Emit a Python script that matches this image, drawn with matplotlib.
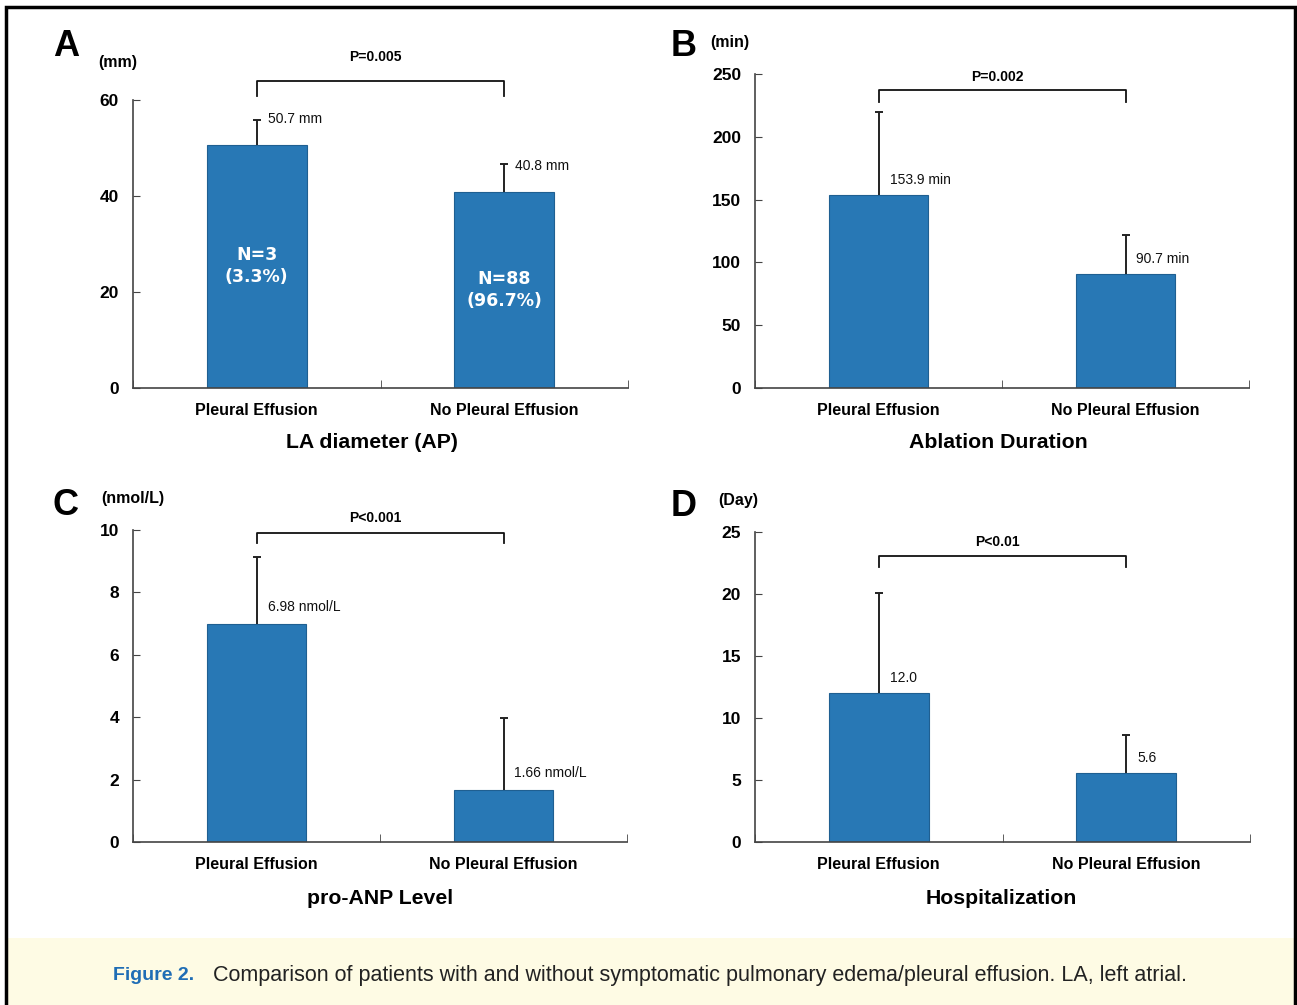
import matplotlib.pyplot as plt
from matplotlib.patches import Rectangle

plt.rcParams['font.family'] = ['Liberation Sans', 'DejaVu Sans']

groups = ['Pleural Effusion', 'No Pleural Effusion']

la_mean = [50.7, 40.8]
la_sd = [5.1, 5.9]
abl_mean = [153.9, 90.7]
abl_sd = [65.5, 31.5]
anp_mean = [6.98, 1.66]
anp_sd = [2.15, 2.32]
hosp_mean = [12.0, 5.6]
hosp_sd = [8.1, 3.0]

la_labels = ['50.7 mm', '40.8 mm']
abl_labels = ['153.9 min', '90.7 min']
anp_labels = ['6.98 nmol/L', '1.66 nmol/L']
hosp_labels = ['12.0', '5.6']
n_labels = ['N=3\n(3.3%)', 'N=88\n(96.7%)']

bar_color = '#2878B5'
spine_color = '#444444'

W, H = 1297, 1005
fig = plt.figure(figsize=(W / 100, H / 100), dpi=100)


def fx(px):
    return px / W


def fy(py):
    return 1 - py / H


panels = [
    # axes rect in pixels (left, top, right, bottom), data, limits, ticks
    dict(box=(133, 100, 628, 388), mean=la_mean, sd=la_sd, labels=la_labels,
         ymax=60, yticks=[0, 20, 40, 60], lab_dy=26,
         bracket=(64.0, 60.8), p='P=0.005', p_y=69.0,
         title='LA diameter (AP)', title_xy=(372, 443),
         letter='A', letter_xy=(66, 47), unit='(mm)', unit_xy=(118, 63)),
    dict(box=(755, 74, 1249, 388), mean=abl_mean, sd=abl_sd, labels=abl_labels,
         ymax=250, yticks=[0, 50, 100, 150, 200, 250], lab_dy=15,
         bracket=(237, 228), p='P=0.002', p_y=248,
         title='Ablation Duration', title_xy=(998, 443),
         letter='B', letter_xy=(684, 47), unit='(min)', unit_xy=(730, 42)),
    dict(box=(133, 530, 627, 842), mean=anp_mean, sd=anp_sd, labels=anp_labels,
         ymax=10, yticks=[0, 2, 4, 6, 8, 10], lab_dy=17,
         bracket=(9.9, 9.58), p='P<0.001', p_y=10.38,
         title='pro-ANP Level', title_xy=(380, 898),
         letter='C', letter_xy=(66, 505), unit='(nmol/L)', unit_xy=(133, 498)),
    dict(box=(755, 532, 1250, 842), mean=hosp_mean, sd=hosp_sd, labels=hosp_labels,
         ymax=25, yticks=[0, 5, 10, 15, 20, 25], lab_dy=15,
         bracket=(23.06, 22.2), p='P<0.01', p_y=24.2,
         title='Hospitalization', title_xy=(1001, 898),
         letter='D', letter_xy=(684, 507), unit='(Day)', unit_xy=(738, 501)),
]

x = [0, 1]
for i, p in enumerate(panels):
    l, t, r, b = p['box']
    ax = fig.add_axes([fx(l), fy(b), fx(r - l), (b - t) / H])
    ax.bar(x, p['mean'], width=0.404, color=bar_color, edgecolor='#1f5f91',
           linewidth=0.8, zorder=2)
    # upper-only error bars with a small cap
    tops = [m + s for m, s in zip(p['mean'], p['sd'])]
    ax.vlines(x, p['mean'], tops, color='#222222', lw=1.4, zorder=3)
    ax.plot(x, tops, ls='none', marker='_', markersize=6, mew=1.4,
            color='#222222', zorder=3)
    ax.set_xlim(-0.5, 1.5)
    ax.set_ylim(0, p['ymax'])
    ax.set_yticks(p['yticks'])
    ax.set_xticks(x)
    ax.set_xticklabels(groups, fontsize=11.5, fontweight='bold')
    ax.set_xticks([-0.5, 0.5, 1.5], minor=True)
    ax.tick_params(axis='x', which='major', length=0, pad=11)
    ax.tick_params(axis='x', which='minor', length=6, direction='in',
                   color=spine_color)
    ax.tick_params(axis='y', length=5, direction='in', pad=10,
                   labelsize=12.5, color=spine_color)
    for lbl in ax.get_yticklabels():
        lbl.set_fontweight('bold')
    for s in ['top', 'right']:
        ax.spines[s].set_visible(False)
    for s in ['left', 'bottom']:
        ax.spines[s].set_color(spine_color)
        ax.spines[s].set_linewidth(1.2)

    # value labels
    for xi, m, txt in zip(x, p['mean'], p['labels']):
        ax.annotate(txt, (xi, m), xytext=(11, p['lab_dy']),
                    textcoords='offset pixels', ha='left', va='center',
                    fontsize=10, color='#111111', zorder=4)

    # significance bracket
    top, foot = p['bracket']
    ax.plot([0, 0, 1, 1], [foot, top, top, foot], color='#111111', lw=1.3,
            clip_on=False)
    ax.text(0.48, p['p_y'], p['p'], ha='center', va='center', fontsize=10,
            fontweight='bold', clip_on=False)

    if i == 0:
        for xi, m, txt in zip(x, p['mean'], n_labels):
            ax.text(xi, m / 2, txt, ha='center', va='center', color='white',
                    fontsize=12.5, fontweight='bold', family='DejaVu Sans',
                    linespacing=1.3, zorder=4)

    fig.text(fx(p['title_xy'][0]), fy(p['title_xy'][1]), p['title'],
             ha='center', va='center', fontsize=15.3, fontweight='bold')
    fig.text(fx(p['letter_xy'][0]), fy(p['letter_xy'][1]), p['letter'],
             ha='center', va='center', fontsize=26, fontweight='bold')
    fig.text(fx(p['unit_xy'][0]), fy(p['unit_xy'][1]), p['unit'],
             ha='center', va='center', fontsize=11.5, fontweight='bold')

# caption band and frame
fig.patches.append(Rectangle((fx(8), 0), fx(1287), fy(938), transform=fig.transFigure,
                             facecolor='#FEFBE4', edgecolor='none', zorder=0))
fig.patches.append(Rectangle((fx(6), -0.01), fx(1289), fy(7) + 0.01,
                             transform=fig.transFigure, facecolor='none',
                             edgecolor='black', linewidth=2.5, zorder=5))
fig.text(fx(113), fy(975), 'Figure 2.', ha='left', va='center', fontsize=14,
         fontweight='bold', color='#1F6DB5')
fig.text(fx(213), fy(975),
         'Comparison of patients with and without symptomatic pulmonary '
         'edema/pleural effusion. LA, left atrial.',
         ha='left', va='center', fontsize=15.5, color='#222222')

fig.savefig('out.png', dpi=100)
